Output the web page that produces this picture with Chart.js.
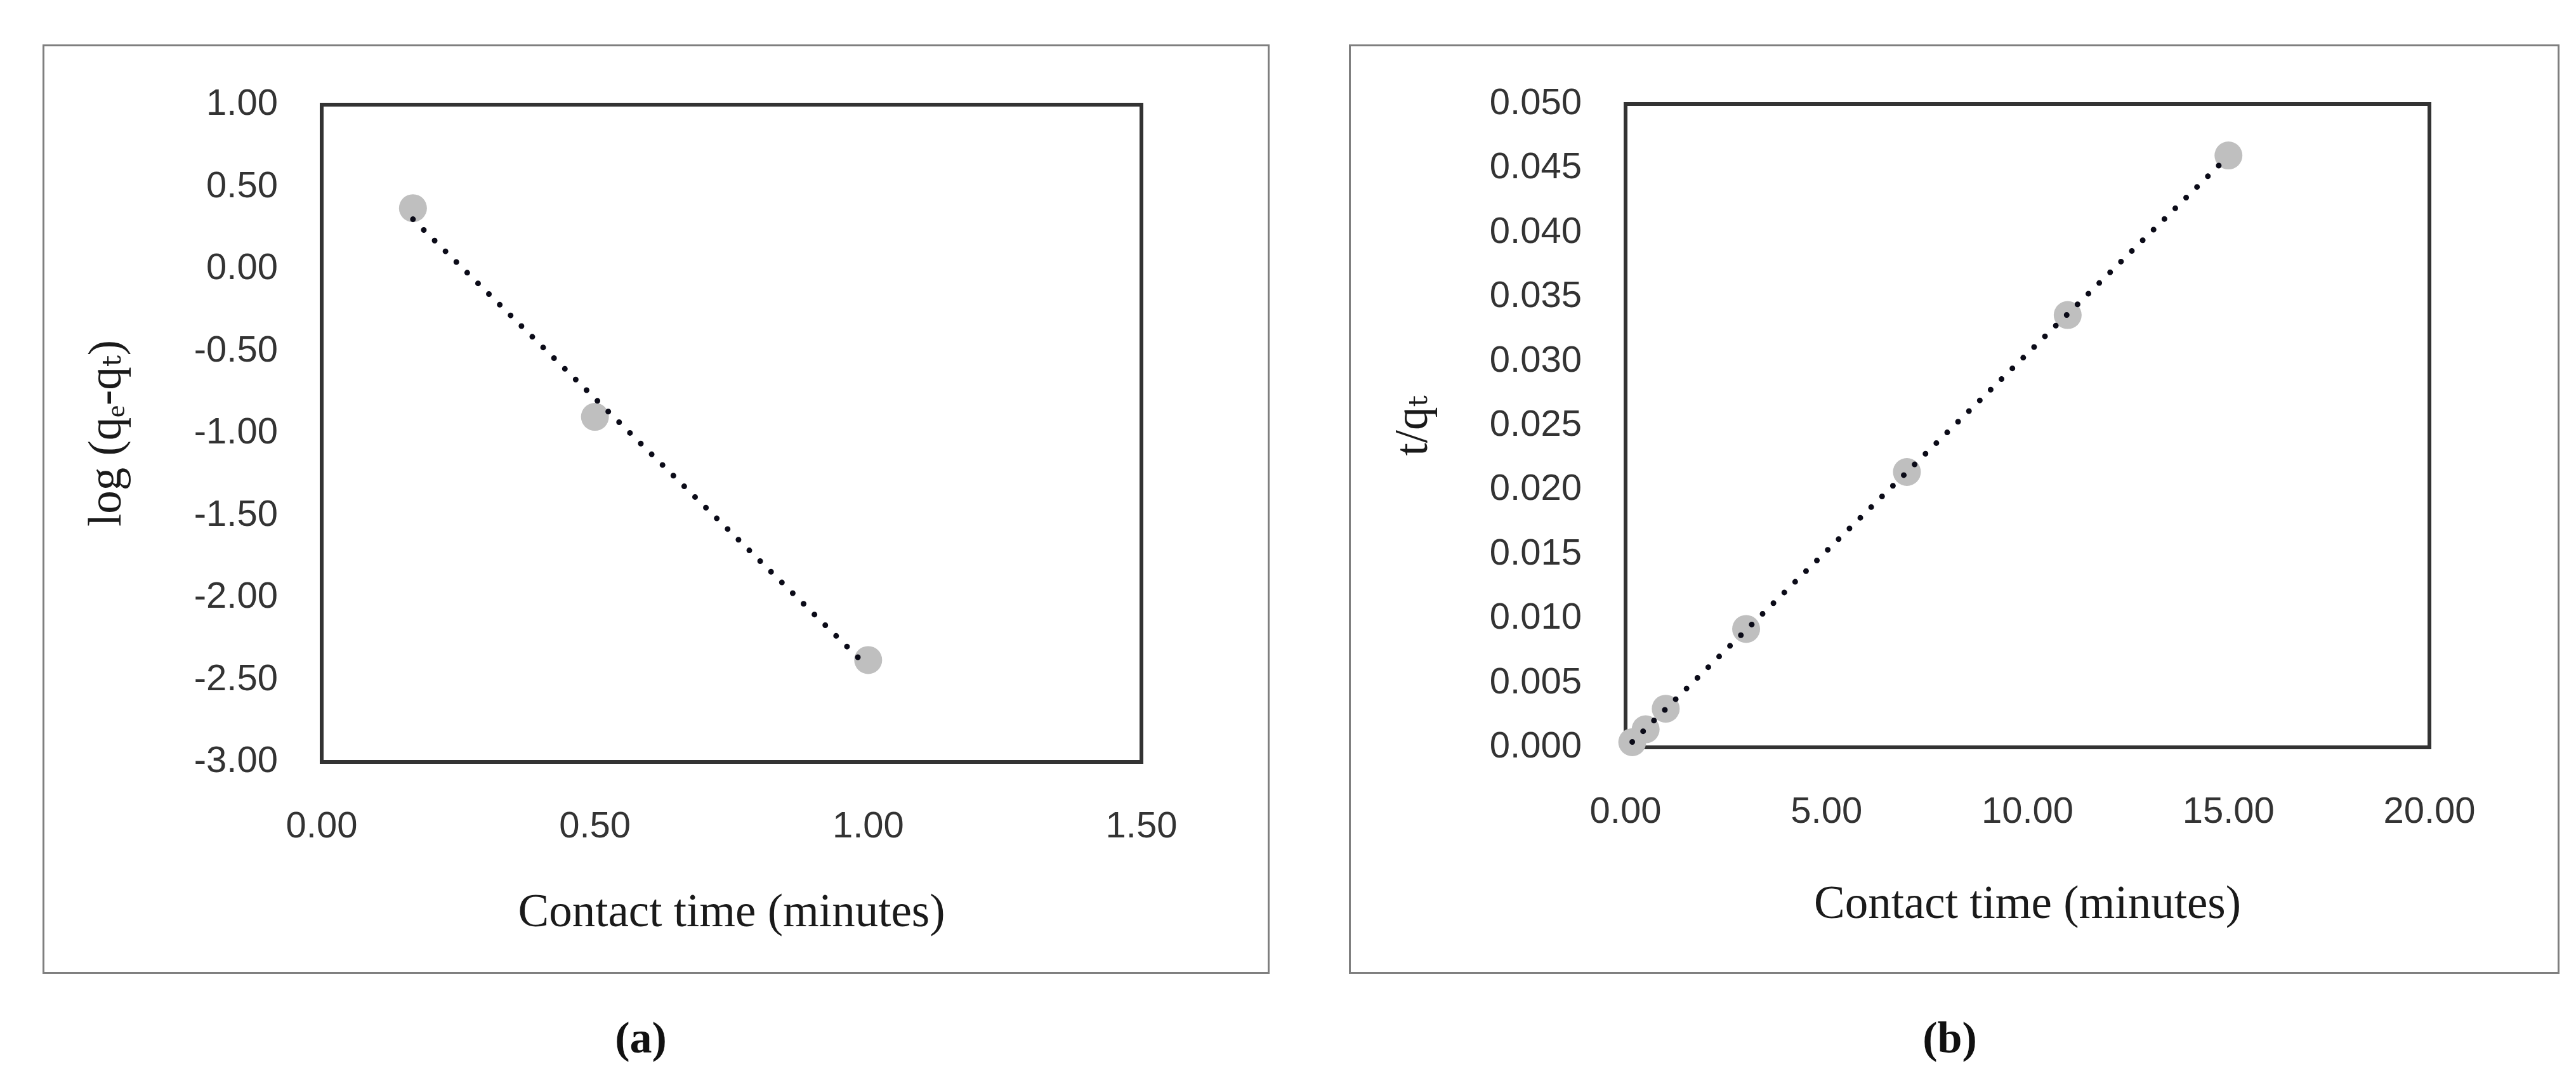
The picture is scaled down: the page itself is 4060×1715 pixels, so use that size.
<!DOCTYPE html>
<html>
<head>
<meta charset="utf-8">
<script src="https://cdn.jsdelivr.net/npm/chart.js@4.4.1/dist/chart.umd.min.js"></script>
<style>
  html, body { margin: 0; padding: 0; background: #ffffff; }
  body { width: 4060px; height: 1715px; position: relative; overflow: hidden; }
  .box { position: absolute; box-sizing: border-box; border: 3px solid #7f7f7f; }
  .wrap { position: absolute; }
  .cap { position: absolute; font-family: "Liberation Serif", "DejaVu Serif", serif; font-weight: bold;
         font-size: 70px; color: #111; transform: translate(-50%, -50%); white-space: nowrap; }
</style>
</head>
<body>
<div class="box" style="left:67px; top:70px; width:1934px; height:1465px;"></div>
<div class="box" style="left:2126px; top:70px; width:1908px; height:1465px;"></div>
<div class="wrap" style="left:67px; top:70px; width:1934px; height:1465px;"><canvas id="chartA"></canvas></div>
<div class="wrap" style="left:2126px; top:70px; width:1908px; height:1465px;"><canvas id="chartB"></canvas></div>
<div class="cap" style="left:1010px; top:1636px;">(a)</div>
<div class="cap" style="left:3073px; top:1636px;">(b)</div>
<script>
// ---------- data ----------
const aTime = [0.167, 0.5, 1.0];
const aLogQ = [0.37, -0.90, -2.38];
const bTime = [0.167, 0.5, 1, 3, 7, 11, 15];
const bTQ = [0.0004, 0.0014, 0.0030, 0.0092, 0.0214, 0.0336, 0.0460];

const aXTicks = [0, 0.5, 1.0, 1.5];
const aYTicks = [-3, -2.5, -2, -1.5, -1, -0.5, 0, 0.5, 1];
const bXTicks = [0, 5, 10, 15, 20];
const bYTicks = [0, 0.005, 0.010, 0.015, 0.020, 0.025, 0.030, 0.035, 0.040, 0.045, 0.050];

const xTitle = 'Contact time (minutes)';
const aYTitle = 'log (q\u2091-q\u209C)';
const bYTitle = 't/q\u209C';

// ---------- helpers ----------
function linFit(xs, ys) {
  const n = xs.length;
  const mx = xs.reduce((s, v) => s + v, 0) / n;
  const my = ys.reduce((s, v) => s + v, 0) / n;
  let sxx = 0, sxy = 0;
  for (let i = 0; i < n; i++) { sxx += (xs[i] - mx) ** 2; sxy += (xs[i] - mx) * (ys[i] - my); }
  const m = sxy / sxx;
  return { m, b: my - m * mx };
}
function trendPoints(xs, ys) {
  const f = linFit(xs, ys);
  const x0 = xs[0], x1 = xs[xs.length - 1];
  return [{ x: x0, y: f.m * x0 + f.b }, { x: x1, y: f.m * x1 + f.b }];
}

const frame = {
  id: 'frame',
  beforeDatasetsDraw(chart) {
    const { ctx, chartArea: a } = chart;
    ctx.save();
    ctx.strokeStyle = '#333333';
    ctx.lineWidth = 6;
    ctx.strokeRect(a.left, a.top, a.right - a.left, a.bottom - a.top);
    ctx.restore();
  }
};

const tickFont = { family: '"Liberation Sans", Arial, sans-serif', size: 58 };
const titleFont = { family: '"Liberation Serif", "DejaVu Serif", serif', size: 73 };

function makeChart(id, xs, ys, cfg) {
  const pts = xs.map((x, i) => ({ x, y: ys[i] }));
  return new Chart(document.getElementById(id), {
    type: 'scatter',
    data: {
      datasets: [
        {
          type: 'line',
          data: trendPoints(xs, ys),
          borderColor: '#0b0b18',
          borderWidth: 9,
          borderDash: [0, 24],
          borderCapStyle: 'round',
          pointRadius: 0,
          fill: false,
          clip: false,
          order: 0
        },
        {
          data: pts,
          backgroundColor: '#bfbfbf',
          borderWidth: 0,
          pointRadius: 22,
          pointHoverRadius: 22,
          clip: false,
          order: 1
        }
      ]
    },
    options: {
      responsive: true,
      maintainAspectRatio: false,
      animation: false,
      devicePixelRatio: 1,
      layout: { padding: { top: cfg.padTop, right: cfg.padRight, left: 0, bottom: 0 } },
      plugins: { legend: { display: false }, tooltip: { enabled: false } },
      scales: {
        x: {
          type: 'linear',
          min: cfg.xTicks[0], max: cfg.xTicks[cfg.xTicks.length - 1],
          grid: { display: false, drawTicks: false },
          border: { display: false },
          afterBuildTicks: s => { s.ticks = cfg.xTicks.map(v => ({ value: v })); },
          afterFit: s => { s.height = cfg.xAxisH; s.paddingLeft = 0; s.paddingRight = 0; },
          ticks: {
            autoSkip: false, maxRotation: 0, padding: cfg.xTickPad,
            font: tickFont, color: '#333333',
            callback: v => Number(v).toFixed(cfg.xDec)
          },
          title: {
            display: true, text: xTitle, font: titleFont, color: '#1a1a1a',
            padding: { top: 0, bottom: cfg.xTitlePad }
          }
        },
        y: {
          type: 'linear',
          min: cfg.yTicks[0], max: cfg.yTicks[cfg.yTicks.length - 1],
          grid: { display: false, drawTicks: false },
          border: { display: false },
          afterBuildTicks: s => { s.ticks = cfg.yTicks.map(v => ({ value: v })); },
          afterFit: s => { s.width = cfg.yAxisW; s.paddingTop = 0; s.paddingBottom = 0; },
          ticks: {
            autoSkip: false, padding: 69,
            font: tickFont, color: '#333333',
            callback: v => Number(v).toFixed(cfg.yDec)
          },
          title: {
            display: true, text: cfg.yTitle, font: titleFont, color: '#1a1a1a',
            padding: { top: 60, bottom: 0 }
          }
        }
      }
    },
    plugins: [frame]
  });
}

makeChart('chartA', aTime, aLogQ, {
  xTicks: aXTicks, yTicks: aYTicks, xDec: 2, yDec: 2, yTitle: aYTitle,
  padTop: 95, padRight: 202, yAxisW: 440, xAxisH: 334, xTickPad: 68, xTitlePad: 50
});
makeChart('chartB', bTime, bTQ, {
  xTicks: bXTicks, yTicks: bYTicks, xDec: 2, yDec: 3, yTitle: bYTitle,
  padTop: 94, padRight: 205, yAxisW: 436, xAxisH: 357, xTickPad: 68, xTitlePad: 63
});
</script>
</body>
</html>
